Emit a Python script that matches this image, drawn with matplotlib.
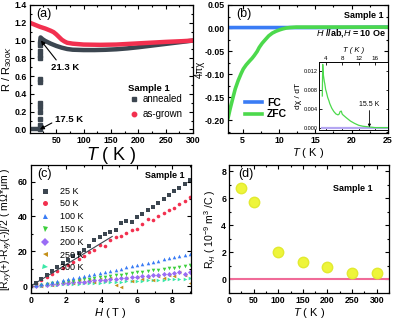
import numpy as np
import matplotlib

matplotlib.use("Agg")
import matplotlib.pyplot as plt
from matplotlib.lines import Line2D
from matplotlib.ticker import AutoMinorLocator, MultipleLocator

plt.rcParams["font.family"] = ["Liberation Sans", "DejaVu Sans"]
plt.rcParams["mathtext.fontset"] = "custom"
plt.rcParams["mathtext.rm"] = "Liberation Sans"
plt.rcParams["mathtext.it"] = "Liberation Sans:italic"
plt.rcParams["mathtext.bf"] = "Liberation Sans:bold"

# (a) resistance
T_SC = [2, 5, 8, 11, 14, 17.5]
R_SC = [0, 0, 0, 0, 0, 0]
T_TRANS = [19.5] * 12
R_TRANS = [0.0, 0.05, 0.12, 0.2, 0.25, 0.3, 0.53, 0.57, 0.8, 0.84, 0.88, 0.95]
T_ANN = [20.5, 21.3, 25, 30, 40, 50, 60, 70, 80, 100, 120, 140, 160, 180, 200, 220, 240, 260, 280, 300]
R_ANN = [0.99, 1.035, 1.015, 0.995, 0.965, 0.94, 0.92, 0.905, 0.897, 0.893, 0.893, 0.896,
         0.902, 0.912, 0.925, 0.94, 0.955, 0.97, 0.985, 1.0]
T_GROWN = [2, 10, 20, 30, 40, 45, 50, 55, 60, 65, 70, 80, 100, 130, 160, 190, 220, 250, 280, 300]
R_GROWN = [1.2, 1.18, 1.155, 1.135, 1.11, 1.095, 1.07, 1.04, 1.01, 0.99, 0.975, 0.965,
           0.955, 0.952, 0.955, 0.965, 0.975, 0.985, 0.993, 1.0]

# (b) susceptibility
T_FC = [3, 5, 10, 15, 20, 25]
CHI_FC = [0.001, 0.001, 0.001, 0.001, 0.0015, 0.002]
T_ZFC = [3, 3.3, 3.7, 4.0, 4.4, 4.8, 5.1, 5.5, 6.0, 6.3, 6.6, 7.0, 7.3, 7.7, 8.2, 8.6,
         9.1, 9.6, 10.1, 10.5, 11, 11.5, 12.4, 14, 17, 20, 25]
CHI_ZFC = [-0.196, -0.175, -0.15, -0.132, -0.114, -0.099, -0.089, -0.08, -0.071, -0.066,
           -0.06, -0.051, -0.042, -0.033, -0.024, -0.017, -0.011, -0.007, -0.004, -0.002,
           0.0, 0.001, 0.002, 0.002, 0.002, 0.002, 0.002]
T_DCHI = [3.2, 3.3, 3.4, 3.5, 3.7, 3.8, 4.0, 4.2, 4.5, 4.8, 5.0, 5.5, 6.0, 6.5, 7.0, 7.3,
          7.5, 7.8, 8.0, 8.2, 8.6, 9.0, 10, 11, 12, 13, 14, 15, 16, 17, 19]
DCHI = [0.0068, 0.0135, 0.0118, 0.011, 0.0098, 0.0094, 0.0082, 0.0076, 0.0065, 0.0058,
        0.0052, 0.0042, 0.0035, 0.003, 0.0028, 0.003, 0.0035, 0.0036, 0.003, 0.0028,
        0.0025, 0.0022, 0.0015, 0.001, 0.0006, 0.0004, 0.0003, 0.0002, 0.0001, 0.0001, 0.0001]
T_DFC = [3.2, 19]
DFC = [0.0, 0.0]

# (c) Hall resistance
H_FIELD = np.round(np.arange(0, 9.01, 0.3), 2)
HALL = {
    "25 K": [0, 2, 4, 6.5, 8.5, 11, 13, 15, 17, 19, 21, 23, 26.5, 28, 30, 31, 32.5, 36, 37.5,
             37, 39.5, 41.5, 43.5, 45.5, 47.5, 50, 52.5, 54.5, 56.5, 58.5, 61],
    "50 K": [0, 1.5, 3.5, 5, 7, 8.5, 10.5, 12, 14, 15.5, 17.5, 19.5, 21, 23.5, 23, 26.5, 28,
             29, 30.5, 32, 33, 35.5, 38.5, 38, 40.5, 42, 43.5, 45, 47, 49, 51],
    "100 K": [0, 0.6, 1.1, 1.7, 2.3, 2.9, 3.4, 4.0, 4.6, 5.1, 5.7, 6.3, 6.9, 7.5, 8.1, 8.8,
              9.4, 10.0, 10.7, 11.3, 12.0, 12.6, 13.3, 13.9, 14.6, 15.3, 15.9, 16.6, 17.2,
              17.9, 18.5],
    "150 K": [0, 0.4, 0.8, 1.2, 1.5, 1.9, 2.3, 2.7, 3.0, 3.4, 3.8, 4.2, 4.6, 5.0, 5.4, 5.8,
              6.2, 6.6, 7.0, 7.4, 7.8, 8.2, 8.6, 9.0, 9.4, 9.8, 10.2, 10.6, 11.0, 11.5, 12.0],
    "200 K": [0, 0.3, 0.5, 0.8, 1.0, 1.3, 1.6, 1.8, 2.1, 2.4, 2.6, 2.9, 3.2, 3.5, 3.7, 4.0,
              4.3, 4.6, 4.8, 5.1, 5.4, 5.6, 5.9, 6.2, 6.5, 6.8, 7.0, 7.4, 7.8, 7.2, 7.8],
    "250 K": [0, 0.5, 0.3, 1.2, 0.8, 1.8, 1.5, 2.4, 2.0, 3.2, 2.6, 3.5, 2.2, 4.0, 3.3, 4.6,
              0.8, -0.5, 4.5, 3.0, 5.0, 4.2, 5.4, 3.5, 6.0, 4.8, 6.2, 5.5, 8.0, 6.5, 1.8],
    "300 K": [0, 0.15, 0.3, 0.45, 0.6, 0.75, 0.9, 1.05, 1.2, 1.35, 1.5, 1.65, 1.8, 1.95, 2.1,
              2.25, 2.4, 2.55, 2.7, 2.85, 3.0, 3.15, 3.3, 3.4, 3.55, 3.7, 3.85, 4.0, 4.15,
              4.3, 4.5],
}
HALL_STYLE = {
    "25 K": ("s", "#3c4650"),
    "50 K": ("o", "#f2304f"),
    "100 K": ("^", "#3a7cf5"),
    "150 K": ("v", "#3ccf3c"),
    "200 K": ("D", "#9a6cf5"),
    "250 K": ("<", "#c4901a"),
    "300 K": (">", "#3ce8a8"),
}
FIT_H = [0, 4.6]
FIT_R = [0, 28.5]

# (d) Hall coefficient
T_HALL = [25, 50, 100, 150, 200, 250, 300]
RH = [6.75, 5.7, 2.05, 1.3, 0.9, 0.5, 0.45]

TICK_FS = 6.3
W, H = 397, 322


def _style(ax, xminor=2, yminor=2):
    ax.tick_params(which="both", direction="in", top=True, right=True,
                   labelsize=TICK_FS, width=0.8, pad=2)
    ax.tick_params(which="major", length=3)
    ax.tick_params(which="minor", length=1.6)
    ax.xaxis.set_minor_locator(AutoMinorLocator(xminor))
    ax.yaxis.set_minor_locator(AutoMinorLocator(yminor))
    for lab in ax.get_xticklabels() + ax.get_yticklabels():
        lab.set_fontweight("bold")
    for sp in ax.spines.values():
        sp.set_linewidth(0.9)


def _box(l, t, r, b):
    return [l / W, 1 - b / H, (r - l) / W, (b - t) / H]


fig = plt.figure(figsize=(3.97, 3.22), dpi=100)

# ---- (a)
ax = fig.add_axes(_box(30, 5, 193, 133))
ax.plot(T_SC, R_SC, color="#3c4650", lw=3.2, solid_capstyle="butt")
ax.plot(T_TRANS, R_TRANS, ls="none", marker="s", ms=2.2, color="#3c4650")
ax.plot(T_ANN, R_ANN, color="#3c4650", lw=3.2)
ax.plot(T_GROWN, R_GROWN, color="#f2304f", lw=3.2)
ax.set_xlim(2, 300)
ax.set_ylim(-0.04, 1.4)
ax.xaxis.set_major_locator(MultipleLocator(50))
ax.yaxis.set_major_locator(MultipleLocator(0.2))
_style(ax)
ax.set_xticks([50, 100, 150, 200, 250, 300])
for lab in ax.get_xticklabels():
    lab.set_fontweight("bold")
ax.set_xlabel("$T$ ( K )", fontsize=13, labelpad=0)
ax.set_ylabel("R / R$_{300K}$", fontsize=8)
ax.yaxis.set_label_coords(-0.1, 0.5)
ax.text(0.04, 0.975, "(a)", transform=ax.transAxes, fontsize=9, va="top")
ax.annotate("21.3 K", xy=(22, 1.0), xytext=(41, 0.70), fontsize=6.8, fontweight="bold",
            va="center", arrowprops=dict(arrowstyle="-|>", color="black", lw=0.8,
                                         mutation_scale=6, shrinkA=0, shrinkB=0,
                                         relpos=(0.25, 1.0)))
ax.annotate("17.5 K", xy=(20, 0.0), xytext=(47, 0.11), fontsize=6.8, fontweight="bold",
            va="center", arrowprops=dict(arrowstyle="-|>", color="black", lw=0.8,
                                         mutation_scale=6, shrinkA=0, shrinkB=0,
                                         relpos=(0.0, 0.3)))
ax.text(181, 0.46, "Sample 1", fontsize=6.8, fontweight="bold", va="center")
handles = [Line2D([], [], ls="none", marker="s", ms=3.2, color="#3c4650"),
           Line2D([], [], ls="none", marker="o", ms=3.2, color="#f2304f")]
ax.legend(handles, ["annealed", "as-grown"], loc="lower left", bbox_to_anchor=(0.58, 0.06),
          frameon=False, fontsize=7, handlelength=0.8, handletextpad=0.5, labelspacing=0.55,
          borderpad=0.1)

# ---- (b)
ax = fig.add_axes(_box(228, 5, 388, 133))
ax.plot(T_FC, CHI_FC, color="#3a7cf5", lw=2.6, label="FC")
ax.plot(T_ZFC, CHI_ZFC, color="#4cd94c", lw=2.6, label="ZFC")
ax.set_xlim(3, 25)
ax.set_ylim(-0.228, 0.05)
ax.xaxis.set_major_locator(MultipleLocator(5))
ax.yaxis.set_major_locator(MultipleLocator(0.05))
ax.yaxis.set_major_formatter(matplotlib.ticker.FormatStrFormatter("%.2f"))
_style(ax)
ax.set_xlabel("$T$ ( K )", fontsize=8, labelpad=1)
ax.set_ylabel("4πχ", fontsize=7, labelpad=0)
ax.text(0.05, 0.975, "(b)", transform=ax.transAxes, fontsize=9, va="top")
ax.text(0.97, 0.955, "Sample 1", transform=ax.transAxes, fontsize=6.5, fontweight="bold",
        ha="right", va="top")
ax.text(0.99, 0.78, "$\\mathbf{\\mathit{H}}$ //ab,$\\mathbf{\\mathit{H}}$ = 10 Oe",
        transform=ax.transAxes, fontsize=6.5, fontweight="bold", ha="right", va="center")
ax.legend(loc="lower left", bbox_to_anchor=(0.06, 0.05), frameon=False,
          handlelength=1.6, handletextpad=0.5, labelspacing=0.15, borderpad=0.2,
          prop=dict(weight="bold", size=7.5))

ins = fig.add_axes(_box(319, 62, 388, 130))
ins.plot(T_DFC, DFC, color="#b4a6f2", lw=1.6)
ins.plot(T_DCHI, DCHI, color="#4cd94c", lw=0.9)
ins.set_xlim(2.4, 19.1)
ins.set_ylim(-0.0004, 0.014)
ins.xaxis.set_major_locator(MultipleLocator(4))
ins.yaxis.set_major_locator(MultipleLocator(0.004))
ins.yaxis.set_major_formatter(matplotlib.ticker.FormatStrFormatter("%.3f"))
ins.tick_params(which="both", direction="in", top=True, right=True, bottom=True,
                labeltop=True, labelbottom=False, labelsize=4, length=1.8, width=0.6, pad=0.8)
ins.tick_params(axis="x", labelsize=4.5)
ins.xaxis.set_label_position("top")
ins.set_xlabel("T ( K )", fontsize=5.5, labelpad=2.5, fontstyle="italic")
ins.set_ylabel("dχ / dT", fontsize=6, labelpad=1)
for sp in ins.spines.values():
    sp.set_linewidth(0.7)
ins.annotate("15.5 K", xy=(14.6, 0.0002), xytext=(14.6, 0.0043), fontsize=5, ha="center",
             va="bottom", arrowprops=dict(arrowstyle="-|>", color="black", lw=0.6,
                                          mutation_scale=4, shrinkA=0, shrinkB=0))

# ---- (c)
ax = fig.add_axes(_box(30.7, 165, 191, 293))
for name in list(HALL)[::-1]:
    marker, color = HALL_STYLE[name]
    ax.plot(H_FIELD, HALL[name], ls="none", marker=marker, ms=2.6, color=color, mew=0)
ax.plot(FIT_H, FIT_R, color="#3c4650", lw=0.8)
ax.set_xlim(0, 9.05)
ax.set_ylim(-4, 69.6)
ax.xaxis.set_major_locator(MultipleLocator(2))
ax.yaxis.set_major_locator(MultipleLocator(20))
_style(ax)
ax.set_xlabel("$H$ ( T )", fontsize=8, labelpad=1)
ax.set_ylabel("[R$_{xy}$(+)-R$_{xy}$(-)]/2 ( mΩ*μm )", fontsize=7.5, labelpad=2)
ax.text(0.04, 0.975, "(c)", transform=ax.transAxes, fontsize=9, va="top")
ax.text(0.96, 0.955, "Sample 1", transform=ax.transAxes, fontsize=6.5, fontweight="bold",
        ha="right", va="top")
handles = [Line2D([], [], ls="none", marker=HALL_STYLE[n][0], ms=3.6, color=HALL_STYLE[n][1],
                  mew=0) for n in HALL]
ax.legend(handles, list(HALL), loc="upper left", bbox_to_anchor=(0.03, 0.88), frameon=False,
          fontsize=6.5, handlelength=0.8, handletextpad=1.2, labelspacing=0.42, borderpad=0.2)

# ---- (d)
ax = fig.add_axes(_box(229, 165, 389, 293))
ax.axhline(0, color="#f06b98", lw=1.5)
ax.plot(T_HALL, RH, ls="none", marker="o", ms=7.5, color="#eef53a", mec="#e2ea30")
ax.set_xlim(0, 325)
ax.set_ylim(-1, 8.45)
ax.xaxis.set_major_locator(MultipleLocator(50))
ax.yaxis.set_major_locator(MultipleLocator(2))
_style(ax)
ax.set_xlabel("$T$ ( K )", fontsize=8, labelpad=1)
ax.set_ylabel("R$_H$ ( 10$^{-9}$ m$^3$ /C )", fontsize=7.5, labelpad=2)
ax.text(0.06, 0.975, "(d)", transform=ax.transAxes, fontsize=9, va="top")
ax.text(0.90, 0.82, "Sample 1", transform=ax.transAxes, fontsize=6.5, fontweight="bold",
        ha="right", va="center")

fig.savefig("out.png", dpi=100)
